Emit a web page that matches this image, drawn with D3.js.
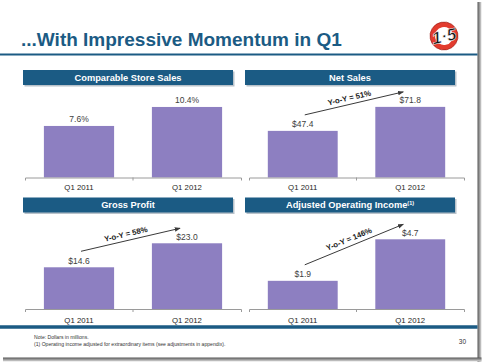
<!DOCTYPE html>
<html>
<head>
<meta charset="utf-8">
<script src="https://cdn.jsdelivr.net/npm/d3@7"></script>
<style>
body { margin: 0; background: #fff; }
text { font-family: "Liberation Sans", Arial, sans-serif; }
</style>
</head>
<body>
<svg></svg>
<script>
// ---- data ----
var categories = ['Q1 2011', 'Q1 2012'];
var panelTitles = ['Comparable Store Sales', 'Net Sales', 'Gross Profit', 'Adjusted Operating Income'];
var compSales = [7.6, 10.4];       // %
var netSales = [47.4, 71.8];       // $M
var grossProfit = [14.6, 23.0];    // $M
var opIncome = [1.9, 4.7];         // $M
var yoyGrowth = [null, 51, 58, 146]; // %
var notes = ['Note: Dollars in millions.',
	'(1) Operating income adjusted for extraordinary items (see adjustments in appendix).'];

var W = 484, H = 364;
var blue = '#1b5b84', purple = '#8d7fc1';
var plotH = 78;

var svg = d3.select('svg').attr('width', W).attr('height', H);
var defs = svg.append('defs');

defs.append('marker')
	.attr('id', 'arrow')
	.attr('viewBox', '0 0 8 6')
	.attr('refX', 7).attr('refY', 3)
	.attr('markerWidth', 6).attr('markerHeight', 5)
	.attr('markerUnits', 'userSpaceOnUse')
	.attr('orient', 'auto')
	.append('path').attr('d', 'M0,0L8,3L0,6Z').attr('fill', '#3a3a3a');

var gr = defs.append('linearGradient').attr('id', 'shR');
gr.append('stop').attr('offset', 0).attr('stop-color', '#555');
gr.append('stop').attr('offset', 1).attr('stop-color', '#ddd');
var gb = defs.append('linearGradient').attr('id', 'shB').attr('x2', 0).attr('y2', 1);
gb.append('stop').attr('offset', 0).attr('stop-color', '#555');
gb.append('stop').attr('offset', 1).attr('stop-color', '#ddd');

// slide shadow
svg.append('rect').attr('x', 477.5).attr('y', 2).attr('width', 4).attr('height', 360).attr('fill', 'url(#shR)');
svg.append('rect').attr('x', 3).attr('y', 357.5).attr('width', 478.5).attr('height', 4).attr('fill', 'url(#shB)');

// title
svg.append('text')
	.attr('x', 21).attr('y', 46)
	.attr('font-size', 19).attr('font-weight', 'bold')
	.attr('fill', blue)
	.text('...With Impressive Momentum in Q1');

svg.append('line')
	.attr('x1', 0).attr('x2', 477.5).attr('y1', 54.5).attr('y2', 54.5)
	.attr('stroke', blue).attr('stroke-width', 2);

// logo
var logo = svg.append('g').attr('transform', 'translate(444,36) rotate(-12)');
logo.append('circle').attr('r', 14).attr('fill', '#e23b2e').attr('stroke', '#9b1f18').attr('stroke-width', 0.6);
logo.append('circle').attr('r', 9).attr('fill', '#fff');
logo.append('text').attr('text-anchor', 'middle').attr('y', 6)
	.attr('font-size', 17).attr('font-weight', 'bold').attr('font-style', 'italic')
	.attr('fill', '#111').attr('stroke', '#fff').attr('stroke-width', 0.5)
	.text('1·5');

// footer
svg.append('line')
	.attr('x1', 0).attr('x2', 477.5).attr('y1', 327).attr('y2', 327)
	.attr('stroke', blue).attr('stroke-width', 3.5);

svg.selectAll('.note')
	.data(notes)
	.enter().append('text')
	.attr('class', 'note')
	.attr('x', 34)
	.attr('y', function(d, i) { return 338.5 + i * 7; })
	.attr('font-size', 5.1)
	.attr('fill', '#333')
	.text(function(d) { return d; });

svg.append('text')
	.attr('x', 466).attr('y', 344)
	.attr('text-anchor', 'end')
	.attr('font-size', 6.5).attr('fill', '#333')
	.text('30');

// ---- panels ----
var pct = function(v) { return d3.format('.1f')(v) + '%'; };
var usd = function(v) { return '$' + d3.format('.1f')(v); };

var panels = [
	{ values: compSales, fmt: pct, yMax: 11.5, col: 0, row: 0 },
	{ values: netSales, fmt: usd, yMax: 79.3, col: 1, row: 0 },
	{ values: grossProfit, fmt: usd, yMax: 27.3, col: 0, row: 1 },
	{ values: opIncome, fmt: usd, yMax: 5.26, col: 1, row: 1 }
];

var colX = [[25, 241], [249, 464]];
var headerX = [23, 245];
var rowBase = [177.5, 309];
var headerY = [70, 197.5];
var labelOff = [12, 14];

panels.forEach(function(p, i) {
	var base = rowBase[p.row];
	var g = svg.append('g');

	// header bar
	g.append('rect')
		.attr('x', headerX[p.col] + 1.5).attr('y', headerY[p.row] + 1.5)
		.attr('width', 210).attr('height', 15)
		.attr('fill', '#8a9aa6').attr('opacity', 0.6);
	g.append('rect')
		.attr('x', headerX[p.col]).attr('y', headerY[p.row])
		.attr('width', 210).attr('height', 15)
		.attr('fill', blue);
	var ht = g.append('text')
		.attr('x', headerX[p.col] + 105).attr('y', headerY[p.row] + 10.8)
		.attr('text-anchor', 'middle')
		.attr('font-size', 9.3).attr('font-weight', 'bold')
		.attr('fill', '#fff')
		.text(panelTitles[i]);
	if (i === 3) {
		ht.append('tspan').attr('font-size', 5.5).attr('dy', -3.5).text('(1)');
	}

	var x = d3.scaleBand()
		.domain(categories)
		.range(colX[p.col])
		.paddingInner(0.35)
		.paddingOuter(0.175);

	var y = d3.scaleLinear()
		.domain([0, p.yMax])
		.range([base, base - plotH]);

	// bars
	g.selectAll('.bar')
		.data(p.values)
		.enter().append('rect')
		.attr('class', 'bar')
		.attr('x', function(d, j) { return x(categories[j]); })
		.attr('y', function(d) { return y(d); })
		.attr('width', x.bandwidth())
		.attr('height', function(d) { return base - y(d); })
		.attr('fill', purple);

	// value labels
	g.selectAll('.val')
		.data(p.values)
		.enter().append('text')
		.attr('class', 'val')
		.attr('x', function(d, j) { return x(categories[j]) + x.bandwidth() / 2; })
		.attr('y', function(d) { return y(d) - 3.5; })
		.attr('text-anchor', 'middle')
		.attr('font-size', 8.5)
		.attr('fill', '#404040')
		.text(p.fmt);

	// axis
	var axis = g.append('g')
		.attr('transform', 'translate(0,' + base + ')')
		.call(d3.axisBottom(x).tickSizeInner(0).tickSizeOuter(3).tickPadding(labelOff[p.row] - 5.4));
	axis.select('.domain').attr('stroke', '#9a9a9a');
	axis.selectAll('text').attr('font-size', 7.8).attr('fill', '#262626')
		.attr('font-family', '"Liberation Sans", Arial, sans-serif');
	axis.append('line')
		.attr('x1', x.range()[0] + x.step()).attr('x2', x.range()[0] + x.step())
		.attr('y1', 0).attr('y2', 3)
		.attr('stroke', '#9a9a9a');

	// year-over-year arrow
	if (yoyGrowth[i] !== null) {
		var x1 = x(categories[0]) + x.bandwidth() / 2 + 2,
			y1 = y(p.values[0]) - 16,
			x2 = x(categories[1]) + x.bandwidth() / 2 - 7,
			y2 = y(p.values[1]) - 15;
		g.append('line')
			.attr('x1', x1).attr('y1', y1).attr('x2', x2).attr('y2', y2)
			.attr('stroke', '#3a3a3a').attr('stroke-width', 1)
			.attr('marker-end', 'url(#arrow)');
		var ang = Math.atan2(y2 - y1, x2 - x1) * 180 / Math.PI;
		var mx = (x1 + x2) / 2 - 4, my = (y1 + y2) / 2 - 3;
		g.append('text')
			.attr('transform', 'translate(' + mx + ',' + my + ') rotate(' + ang + ')')
			.attr('text-anchor', 'middle')
			.attr('font-size', 7.8).attr('font-weight', 'bold')
			.attr('fill', '#1a1a1a')
			.text('Y-o-Y = ' + yoyGrowth[i] + '%');
	}
});
</script>
</body>
</html>
